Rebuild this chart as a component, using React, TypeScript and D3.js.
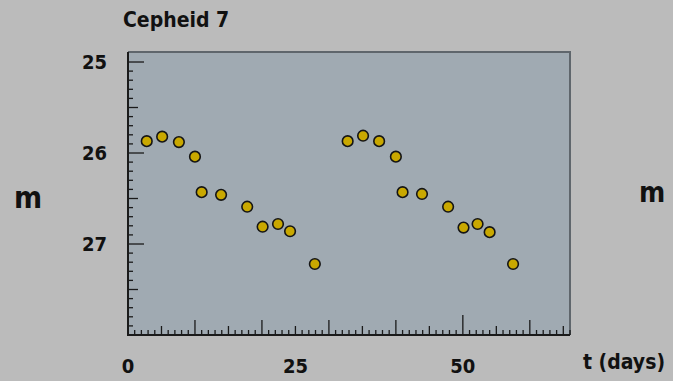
import React from "react";
import * as d3 from "d3";

// light curve of Cepheid 7, two cycles (t in days, apparent magnitude m)
const cycle1Days = [2.8, 5.1, 7.6, 10.0, 11.0, 13.9, 17.8, 20.1, 22.4, 24.2, 27.9];
const cycle1Mag = [25.87, 25.82, 25.88, 26.04, 26.43, 26.46, 26.59, 26.81, 26.78, 26.86, 27.22];
const cycle2Days = [32.8, 35.1, 37.5, 40.0, 41.0, 43.9, 47.8, 50.1, 52.2, 54.0, 57.5];
const cycle2Mag = [25.87, 25.81, 25.87, 26.04, 26.43, 26.45, 26.59, 26.82, 26.78, 26.87, 27.22];

const xTickLabels = [0, 25, 50];
const yTickLabels = [25, 26, 27];
const title = "Cepheid 7";
const xTitle = "t (days)";
const yTitle = "m";

const W = 673;
const H = 381;
const font = "'DejaVu Sans Condensed', 'DejaVu Sans', sans-serif";

export default function App() {
  const x = d3.scaleLinear().domain([0, 66]).range([128, 570]);
  const y = d3.scaleLinear().domain([24.89, 28]).range([52, 335]);
  const [x0, x1] = x.range();
  const [y0, y1] = y.range();

  const points = [
    ...cycle1Days.map((d, i) => [d, cycle1Mag[i]]),
    ...cycle2Days.map((d, i) => [d, cycle2Mag[i]]),
  ];

  // tick marks: every day / 0.1 mag
  const xTicks = d3.range(1, 67);
  const yTicks = d3.range(250, 281).map((v) => v / 10);

  const xLen = (v: number) => (v % 50 === 0 ? 20 : v % 10 === 0 ? 15 : v % 5 === 0 ? 9 : 5);
  const yLen = (v: number) => {
    const k = Math.round(v * 10);
    return k % 10 === 0 ? 16 : k % 5 === 0 ? 10 : 5;
  };

  return (
    <svg
      width={W}
      height={H}
      style={{ position: "absolute", left: 0, top: 0, display: "block" }}
      fontFamily={font}
      fontStretch="condensed"
      fontWeight="bold"
    >
      <rect width={W} height={H} fill="#bbbbbb" />
      <rect x={x0} y={y0} width={x1 - x0} height={y1 - y0} fill="#a0aab2" />

      {/* top and right frame */}
      <path d={`M${x0},${y0}H${x1}V${y1}`} fill="none" stroke="#5f666c" strokeWidth={2} />

      {/* ticks */}
      <g stroke="#1a1a1a" strokeWidth={1.3}>
        {xTicks.map((v) => (
          <line key={"x" + v} x1={x(v)} x2={x(v)} y1={y1} y2={y1 - xLen(v)} />
        ))}
        {yTicks.map((v) => (
          <line key={"y" + v} x1={x0} x2={x0 + yLen(v)} y1={y(v)} y2={y(v)} />
        ))}
      </g>

      {/* left and bottom axes */}
      <path d={`M${x0},${y0}V${y1}H${x1}`} fill="none" stroke="#1a1a1a" strokeWidth={2} />

      {/* data */}
      <g fill="#c9a800" stroke="#151515" strokeWidth={1.6}>
        {points.map(([d, m], i) => (
          <circle key={i} cx={x(d)} cy={y(m)} r={5.3} />
        ))}
      </g>

      {/* labels */}
      <g fill="#111" fontSize={20}>
        {yTickLabels.map((v) => (
          <text key={v} x={107} y={y(v)} dy="0.36em" textAnchor="end">
            {v}
          </text>
        ))}
        {xTickLabels.map((v) => (
          <text key={v} x={x(v)} y={373} textAnchor="middle">
            {v}
          </text>
        ))}
        <text x={123} y={27} fontSize={21}>
          {title}
        </text>
        <text x={583} y={369} fontSize={21}>
          {xTitle}
        </text>
        <text x={28} y={208} textAnchor="middle" fontSize={30}>
          {yTitle}
        </text>
        <text x={652} y={202} textAnchor="middle" fontSize={28}>
          {yTitle}
        </text>
      </g>
    </svg>
  );
}
